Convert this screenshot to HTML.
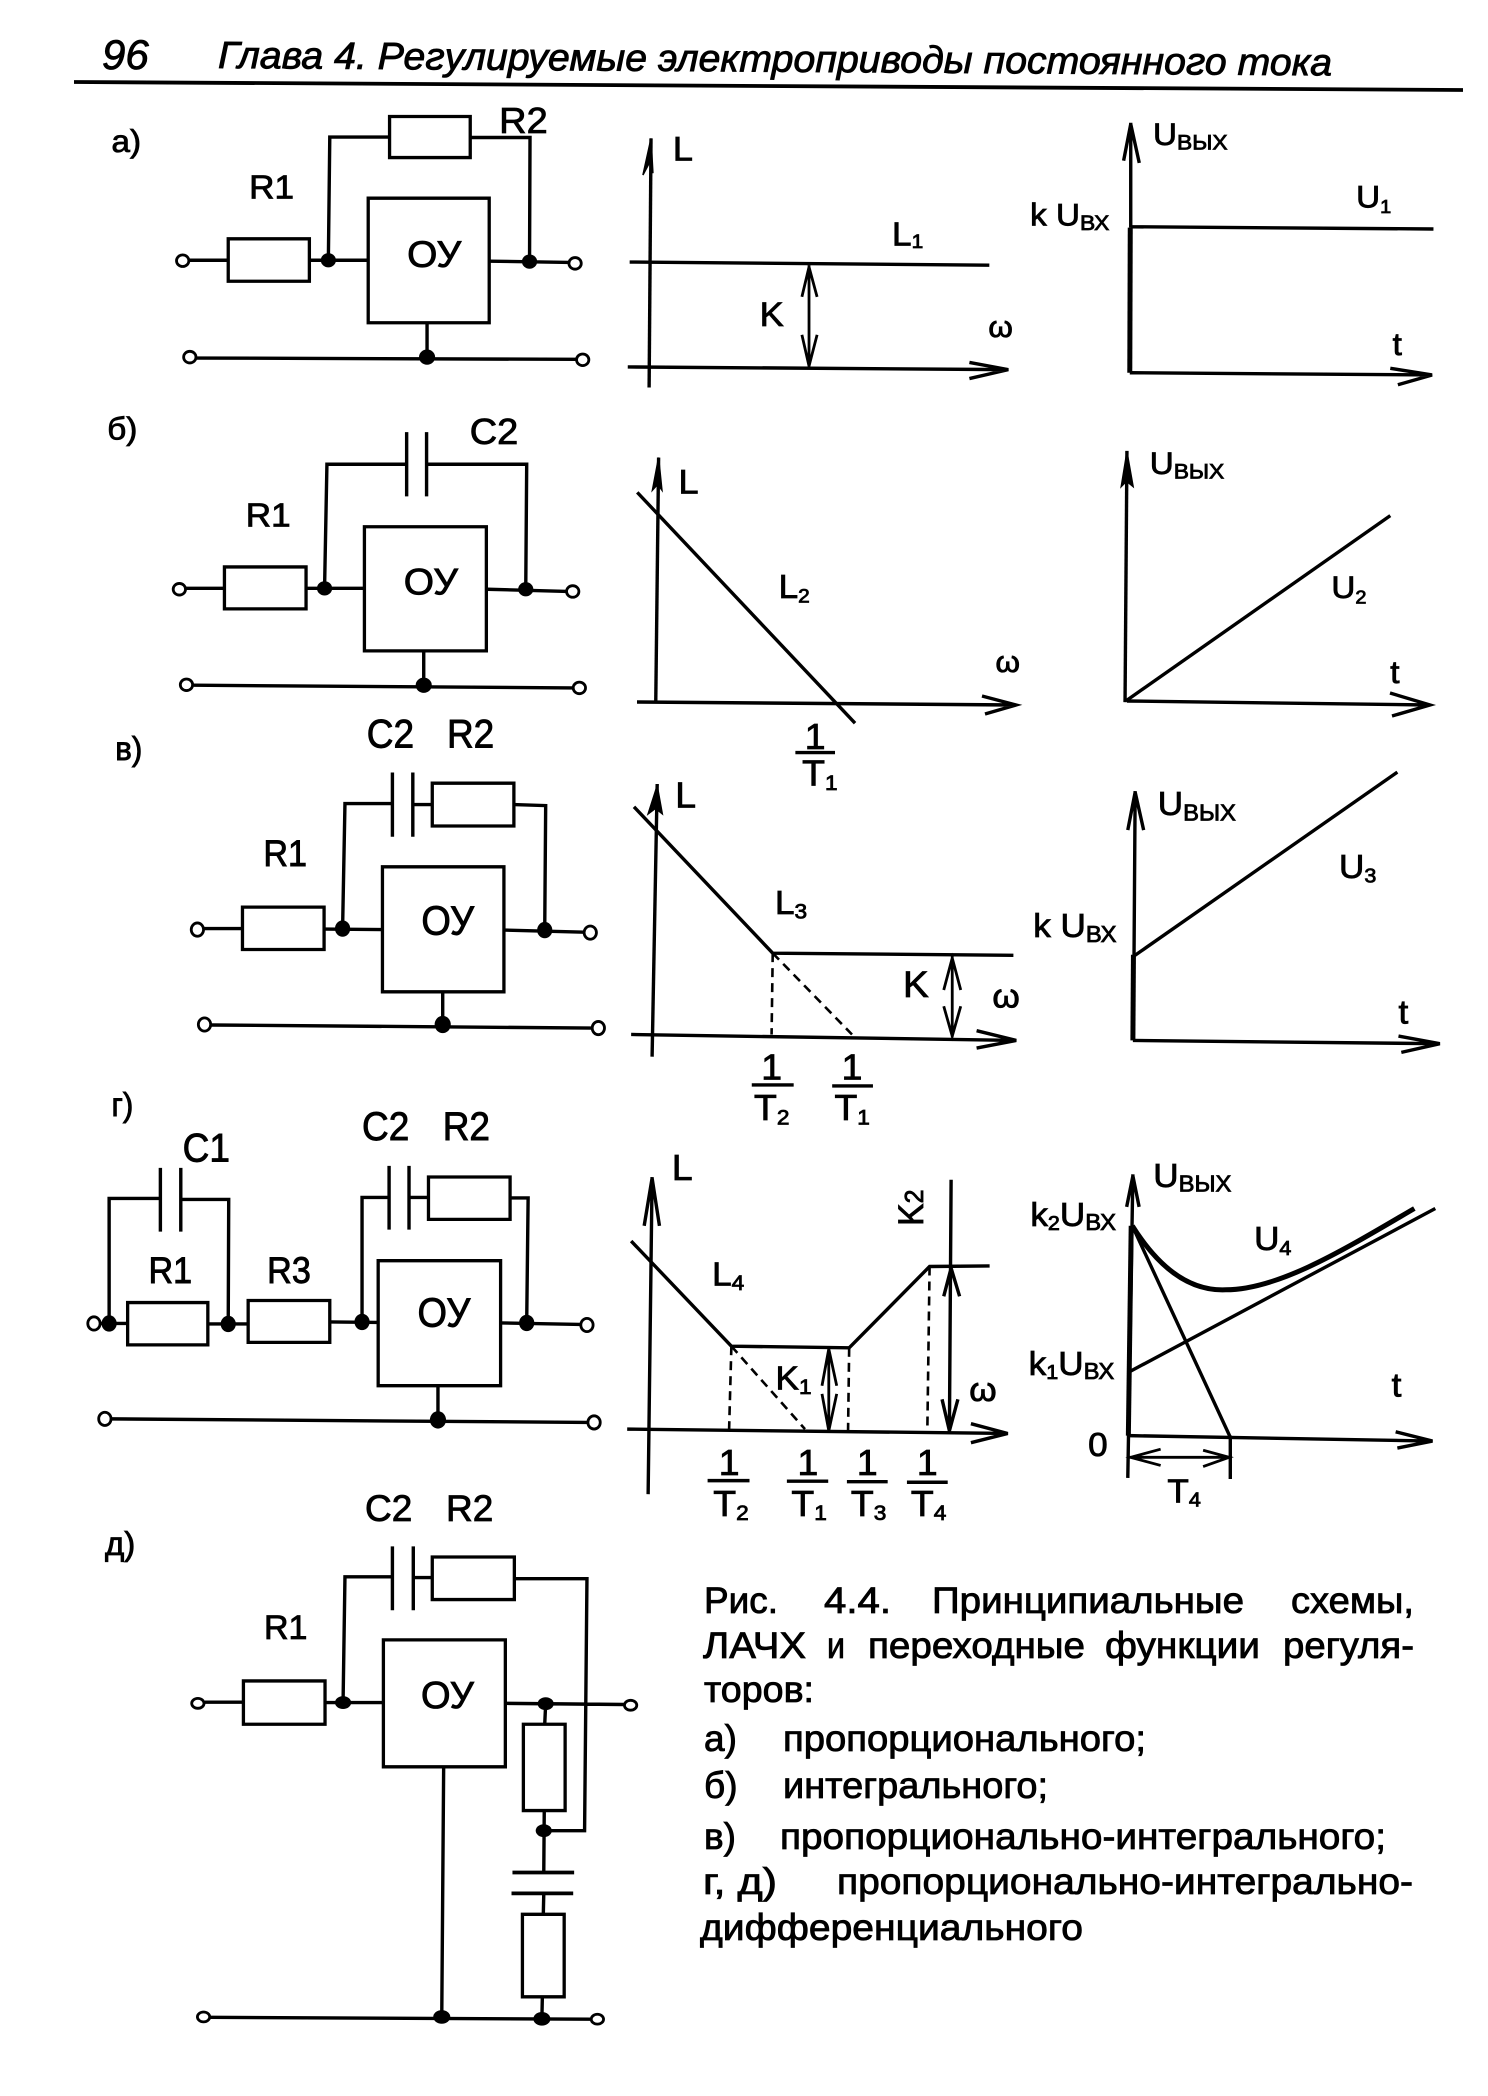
<!DOCTYPE html>
<html lang="ru"><head><meta charset="utf-8"><title>Рис. 4.4</title>
<style>
html,body{margin:0;padding:0;background:#fff}
svg{display:block;position:absolute;left:0;top:0}
svg *{vector-effect:non-scaling-stroke}
path{fill:none;stroke:#000;stroke-width:3.4}
path.t{stroke-width:2.8}
path.b{stroke-width:5}
path.d{stroke-dasharray:9 6;stroke-width:2.6}
path.h{fill:#000;stroke:#000;stroke-width:1.5}
rect{fill:none;stroke:#000;stroke-width:3.3}
circle.o{fill:#fff;stroke:#000;stroke-width:2.8}
circle.j{fill:#000;stroke:none}
text{font-family:"Liberation Sans",sans-serif;fill:#000;stroke:#000;stroke-width:.85}
</style></head><body>
<svg width="1488" height="2096" viewBox="0 0 1488 2096" xmlns="http://www.w3.org/2000/svg">

<!-- header -->
<path d="M74 82 L1463 90" style="stroke-width:3.8"/>
<text x="102" y="69" font-size="42" font-style="italic">96</text>
<text x="218" y="68" font-size="38" font-style="italic" textLength="1114" lengthAdjust="spacingAndGlyphs" transform="rotate(.38 218 68)">Глава 4. Регулируемые электроприводы постоянного тока</text>

<!-- ROW a / b -->
<g transform="scale(.4745,.4464)">
  <!-- circuit a -->
  <rect x="821" y="261" width="170" height="92"/>
  <rect x="481" y="535" width="171" height="95"/>
  <rect x="776" y="444" width="255" height="279"/>
  <path d="M692 583 L695 307 L821 307 M991 308 L1117 308 L1116 585 M398 583 L481 583 M652 583 L777 583 M1032 585 L1200 588 M900 724 L900 800 M413 802 L1214 805"/>
  <circle class="o" cx="385" cy="584" r="13"/><circle class="o" cx="1212" cy="590" r="13"/><circle class="o" cx="400" cy="800" r="13"/><circle class="o" cx="1228" cy="806" r="13"/>
  <circle class="j" cx="692" cy="583" r="16"/><circle class="j" cx="1116" cy="586" r="16"/><circle class="j" cx="900" cy="800" r="17"/>
  <text x="235" y="340" font-size="70">а)</text>
  <text x="525" y="445" font-size="74">R1</text>
  <text x="1052" y="298" font-size="80">R2</text>
  <text x="858" y="598" font-size="82">ОУ</text>

  <!-- graph a -->
  <path d="M1372 310 L1368 868"/>
  <path class="h" d="M1355 392 L1372 310 L1376 388 L1371 360 Z"/>
  <path d="M1327 587 L2085 594"/>
  <path d="M1323 822 L2125 828 M2043 812 L2125 828 L2043 848"/>
  <path class="t" d="M1705 594 L1705 822 M1690 665 L1705 598 L1722 665 M1690 750 L1705 820 L1722 750"/>
  <text x="1418" y="360" font-size="76">L</text>
  <text x="1601" y="730" font-size="76">K</text>
  <text x="2083" y="755" font-size="66" font-family="Liberation Serif">ω</text>
  <text x="1880" y="550" font-size="74">L<tspan font-size="44" dy="6">1</tspan></text>

  <!-- U graph a -->
  <path d="M2383 275 L2383 510 M2368 360 L2383 278 L2401 365"/>
  <path class="b" d="M2382 510 L2381 835"/>
  <path d="M2381 835 L3018 840 M2930 825 L3018 840 L2946 862"/>
  <path d="M2383 508 L3021 513"/>
  <text x="2430" y="325" font-size="70">U<tspan font-size="48" dy="10">ВЫХ</tspan></text>
  <text x="2171" y="505" font-size="70">k U<tspan font-size="48" dy="10">ВХ</tspan></text>
  <text x="2858" y="465" font-size="70">U<tspan font-size="42" dy="12">1</tspan></text>
  <text x="2935" y="795" font-size="70">t</text>

  <!-- circuit b -->
  <rect x="473" y="1270" width="172" height="94"/>
  <rect x="768" y="1180" width="257" height="278"/>
  <path d="M684 1318 L689 1040 L857 1040 M857 968 L857 1112 M899 968 L899 1112 M899 1040 L1110 1040 L1108 1320 M392 1318 L473 1318 M645 1318 L769 1318 M1027 1320 L1195 1325 M893 1458 L893 1535 M408 1535 L1208 1541"/>
  <circle class="o" cx="378" cy="1320" r="13"/><circle class="o" cx="1207" cy="1325" r="13"/><circle class="o" cx="393" cy="1534" r="13"/><circle class="o" cx="1221" cy="1541" r="13"/>
  <circle class="j" cx="684" cy="1318" r="16"/><circle class="j" cx="1108" cy="1320" r="16"/><circle class="j" cx="893" cy="1535" r="17"/>
  <text x="226" y="985" font-size="70">б)</text>
  <text x="518" y="1180" font-size="74">R1</text>
  <text x="990" y="995" font-size="80">C2</text>
  <text x="851" y="1332" font-size="82">ОУ</text>

  <!-- graph b -->
  <path d="M1388 1025 L1382 1573"/>
  <path class="h" d="M1375 1098 L1388 1025 L1395 1098 L1386 1085 Z"/>
  <path d="M1343 1103 L1802 1620"/>
  <text x="1430" y="1105" font-size="76">L</text>
  <text x="1641" y="1340" font-size="74">L<tspan font-size="44" dy="10">2</tspan></text>
  <text x="2098" y="1505" font-size="66" font-family="Liberation Serif">ω</text>

  <!-- U graph b -->
  <path d="M2375 1010 L2371 1573"/>
  <path class="h" d="M2363 1090 L2375 1012 L2388 1090 L2374 1078 Z"/>
  <path d="M2373 1570 L2930 1155"/>
  <text x="2423" y="1062" font-size="70">U<tspan font-size="48" dy="10">ВЫХ</tspan></text>
  <text x="2806" y="1340" font-size="70">U<tspan font-size="42" dy="12">2</tspan></text>
  <text x="2930" y="1530" font-size="70">t</text>
</g>

<!-- b axis bottom parts -->
<path d="M637 702 L1016 705 M982 696 L1016 705 L985 714"/>
<path d="M1127 701 L1430 705 M1390 693 L1430 705 L1392 716"/>

<!-- CIRCUITS c, g -->
<g transform="translate(0,700) scale(.4745,.5102)">
  <rect x="911" y="163" width="172" height="84"/>
  <rect x="511" y="406" width="172" height="83"/>
  <rect x="806" y="327" width="256" height="245"/>
  <path d="M722 448 L727 203 L827 203 M827 142 L827 268 M870 142 L870 268 M870 205 L911 205 M1083 205 L1150 207 L1148 450 M430 448 L511 448 M683 449 L807 450 M1062 451 L1232 455 M933 572 L933 636 M445 637 L1248 643"/>
  <circle class="o" cx="416" cy="450" r="13"/><circle class="o" cx="1244" cy="456" r="13"/><circle class="o" cx="431" cy="636" r="13"/><circle class="o" cx="1261" cy="643" r="13"/>
  <circle class="j" cx="722" cy="448" r="16"/><circle class="j" cx="1148" cy="451" r="16"/><circle class="j" cx="933" cy="636" r="17"/>
  <text x="243" y="118" font-size="66">в)</text>
  <text x="555" y="325" font-size="72">R1</text>
  <text x="773" y="93" font-size="78">C2</text>
  <text x="942" y="93" font-size="78">R2</text>
  <text x="888" y="460" font-size="80">ОУ</text>

  <rect x="269" y="1181" width="169" height="83"/>
  <rect x="523" y="1177" width="172" height="82"/>
  <rect x="903" y="935" width="172" height="83"/>
  <rect x="797" y="1099" width="258" height="245"/>
  <path d="M230 1222 L230 977 L338 977 M338 917 L338 1042 M381 917 L381 1042 M381 979 L482 979 L481 1223 M212 1222 L269 1222 M438 1223 L523 1223 M695 1219 L796 1220 M763 1219 L763 975 L820 975 M820 913 L820 1038 M862 913 L862 1038 M862 975 L903 975 M1075 976 L1113 976 L1110 1221 M1056 1221 L1222 1224 M923 1344 L923 1411 M233 1409 L1238 1416"/>
  <circle class="o" cx="198" cy="1222" r="13"/><circle class="o" cx="1237" cy="1225" r="13"/><circle class="o" cx="221" cy="1409" r="13"/><circle class="o" cx="1252" cy="1416" r="13"/>
  <circle class="j" cx="230" cy="1222" r="16"/><circle class="j" cx="481" cy="1223" r="16"/><circle class="j" cx="763" cy="1219" r="16"/><circle class="j" cx="1110" cy="1221" r="16"/><circle class="j" cx="923" cy="1411" r="17"/>
  <text x="235" y="815" font-size="66">г)</text>
  <text x="385" y="905" font-size="78">C1</text>
  <text x="763" y="862" font-size="78">C2</text>
  <text x="933" y="862" font-size="78">R2</text>
  <text x="313" y="1143" font-size="72">R1</text>
  <text x="563" y="1143" font-size="72">R3</text>
  <text x="880" y="1228" font-size="80">ОУ</text>
</g>

<!-- GRAPHS c, g -->
<g transform="translate(600,700) scale(.5663,.5421)">
  <!-- 1/T1 of b -->
  <text x="380" y="90" font-size="66" text-anchor="middle">1</text>
  <path d="M345 97 L415 97"/>
  <text x="357" y="158" font-size="66">T<tspan font-size="40" dy="8">1</tspan></text>

  <!-- graph c -->
  <path d="M101 155 L92 658"/>
  <path class="h" d="M85 210 L101 158 L110 210 L98 200 Z"/>
  <path d="M55 617 L735 628 M665 610 L735 628 L665 642"/>
  <path d="M60 197 L305 467 L730 471"/>
  <path class="d" d="M305 467 L303 617 M305 467 L445 617"/>
  <path class="t" d="M622 472 L622 622 M607 535 L622 476 L637 535 M607 565 L622 620 L637 565"/>
  <text x="133" y="198" font-size="66">L</text>
  <text x="309" y="395" font-size="62">L<tspan font-size="40" dy="8">3</tspan></text>
  <text x="535" y="548" font-size="68">K</text>
  <text x="693" y="567" font-size="62" font-family="Liberation Serif">ω</text>
  <text x="303" y="700" font-size="66" text-anchor="middle">1</text><path d="M268 710 L342 710"/>
  <text x="272" y="775" font-size="66">T<tspan font-size="40" dy="8">2</tspan></text>
  <text x="445" y="700" font-size="66" text-anchor="middle">1</text><path d="M410 712 L482 712"/>
  <text x="414" y="775" font-size="66">T<tspan font-size="40" dy="8">1</tspan></text>

  <!-- U3 -->
  <path d="M945 168 L943 473 M932 240 L945 170 L960 240"/>
  <path class="b" d="M942 470 L941 628"/>
  <path d="M941 628 L1483 634 M1410 620 L1483 634 L1415 650"/>
  <path d="M942 473 L1408 133"/>
  <text x="985" y="212" font-size="62">U<tspan font-size="42" dy="10">ВЫХ</tspan></text>
  <text x="1305" y="328" font-size="62">U<tspan font-size="38" dy="9">3</tspan></text>
  <text x="765" y="437" font-size="62">k U<tspan font-size="42" dy="9">ВХ</tspan></text>
  <text x="1410" y="597" font-size="62">t</text>

  <!-- graph g -->
  <path d="M92 880 L85 1465 M78 970 L92 882 L105 970"/>
  <path d="M48 1345 L720 1353 M655 1335 L720 1353 L655 1370"/>
  <path d="M55 998 L232 1192 L440 1195 L582 1045 L688 1044"/>
  <path class="d" d="M232 1192 L228 1345 M232 1192 L362 1345 M440 1195 L438 1350 M582 1045 L578 1350"/>
  <path class="t" d="M404 1195 L404 1350 M392 1265 L404 1197 L418 1265 M392 1280 L404 1348 L418 1280"/>
  <path d="M620 885 L617 1350 M607 1100 L620 1048 L635 1100 M604 1290 L617 1348 L632 1290"/>
  <text x="127" y="885" font-size="66">L</text>
  <text x="198" y="1080" font-size="62">L<tspan font-size="40" dy="8">4</tspan></text>
  <text x="310" y="1272" font-size="62">K<tspan font-size="40" dy="8">1</tspan></text>
  <text transform="translate(570,970) rotate(-90)" font-size="62">K<tspan font-size="46">2</tspan></text>
  <text x="652" y="1293" font-size="62" font-family="Liberation Serif">ω</text>
  <text x="228" y="1430" font-size="66" text-anchor="middle">1</text><path d="M190 1440 L264 1440"/>
  <text x="200" y="1505" font-size="66">T<tspan font-size="40" dy="8">2</tspan></text>
  <text x="367" y="1430" font-size="66" text-anchor="middle">1</text><path d="M330 1441 L403 1441"/>
  <text x="338" y="1505" font-size="66">T<tspan font-size="40" dy="8">1</tspan></text>
  <text x="472" y="1430" font-size="66" text-anchor="middle">1</text><path d="M436 1442 L508 1442"/>
  <text x="443" y="1505" font-size="66">T<tspan font-size="40" dy="8">3</tspan></text>
  <text x="578" y="1430" font-size="66" text-anchor="middle">1</text><path d="M542 1443 L614 1443"/>
  <text x="549" y="1505" font-size="66">T<tspan font-size="40" dy="8">4</tspan></text>

  <!-- U4 -->
  <path d="M941 875 L932 1435 M930 935 L941 878 L952 935"/>
  <path class="b" d="M938 970 L933 1357"/>
  <path d="M935 1357 L1470 1367 M1405 1350 L1470 1367 L1408 1380"/>
  <path d="M937 1238 L1475 938"/>
  <path class="b" d="M940 970 C1000 1070 1060 1090 1105 1088 C1200 1088 1320 1010 1438 938"/>
  <path d="M940 970 L1113 1360 M1113 1357 L1113 1437"/>
  <path class="t" d="M935 1397 L1113 1397 M990 1382 L937 1397 L990 1412 M1065 1384 L1111 1397 L1065 1414"/>
  <text x="977" y="898" font-size="62">U<tspan font-size="42" dy="9">ВЫХ</tspan></text>
  <text x="1155" y="1015" font-size="62">U<tspan font-size="38" dy="9">4</tspan></text>
  <text x="760" y="970" font-size="62">k<tspan font-size="38" dy="8">2</tspan><tspan dy="-8">U</tspan><tspan font-size="42" dy="8">ВХ</tspan></text>
  <text x="757" y="1245" font-size="62">k<tspan font-size="38" dy="8">1</tspan><tspan dy="-8">U</tspan><tspan font-size="42" dy="8">ВХ</tspan></text>
  <text x="862" y="1395" font-size="62">0</text>
  <text x="1398" y="1285" font-size="62">t</text>
  <text x="1002" y="1480" font-size="62">T<tspan font-size="38" dy="8">4</tspan></text>
</g>

<!-- CIRCUIT d -->
<g transform="translate(0,1500) scale(.4745,.3801)">
  <rect x="911" y="150" width="173" height="112"/>
  <rect x="513" y="476" width="172" height="114"/>
  <rect x="808" y="368" width="257" height="334"/>
  <rect x="1103" y="590" width="88" height="227"/>
  <rect x="1101" y="1090" width="88" height="217"/>
  <path d="M723 533 L727 202 L827 202 M827 122 L827 290 M871 122 L871 290 M871 204 L911 204 M1084 207 L1237 207 L1232 870 L1146 870 M432 532 L513 532 M685 533 L809 533 M1067 535 L1315 538 M1150 536 L1148 590 M1147 817 L1146 980 M1146 1035 L1145 1090 M1143 1307 L1142 1365 M935 702 L931 1360 M442 1361 L1245 1366"/>
  <path style="stroke-width:3.8" d="M1080 980 L1210 980 M1078 1035 L1208 1035"/>
  <circle class="o" cx="417" cy="535" r="13"/><circle class="o" cx="1329" cy="540" r="13"/><circle class="o" cx="429" cy="1360" r="13"/><circle class="o" cx="1259" cy="1366" r="13"/>
  <circle class="j" cx="723" cy="533" r="17"/><circle class="j" cx="1150" cy="536" r="17"/><circle class="j" cx="1146" cy="870" r="17"/><circle class="j" cx="931" cy="1360" r="18"/><circle class="j" cx="1142" cy="1365" r="18"/>
</g>
<text x="105" y="1555" font-size="33">д)</text>
<text x="365" y="1521" font-size="37">C2</text>
<text x="446" y="1521" font-size="37">R2</text>
<text x="264" y="1639" font-size="34">R1</text>
<text x="421" y="1708" font-size="38">ОУ</text>

<!-- caption -->
<g>
<text x="704" y="1613" font-size="37" textLength="74" lengthAdjust="spacingAndGlyphs">Рис.</text>
<text x="824" y="1613" font-size="37" textLength="67" lengthAdjust="spacingAndGlyphs">4.4.</text>
<text x="932" y="1613" font-size="37" textLength="312" lengthAdjust="spacingAndGlyphs">Принципиальные</text>
<text x="1291" y="1613" font-size="37" textLength="123" lengthAdjust="spacingAndGlyphs">схемы,</text>

<text x="703" y="1658" font-size="37" textLength="103" lengthAdjust="spacingAndGlyphs">ЛАЧХ</text>
<text x="827" y="1658" font-size="37" textLength="18" lengthAdjust="spacingAndGlyphs">и</text>
<text x="868" y="1658" font-size="37" textLength="217" lengthAdjust="spacingAndGlyphs">переходные</text>
<text x="1105" y="1658" font-size="37" textLength="155" lengthAdjust="spacingAndGlyphs">функции</text>
<text x="1283" y="1658" font-size="37" textLength="131" lengthAdjust="spacingAndGlyphs">регуля-</text>

<text x="704" y="1702" font-size="37" textLength="110" lengthAdjust="spacingAndGlyphs">торов:</text>

<text x="704" y="1751" font-size="37">а)</text>
<text x="783" y="1751" font-size="37" textLength="363" lengthAdjust="spacingAndGlyphs">пропорционального;</text>
<text x="704" y="1798" font-size="37">б)</text>
<text x="783" y="1798" font-size="37" textLength="265" lengthAdjust="spacingAndGlyphs">интегрального;</text>
<text x="704" y="1849" font-size="37">в)</text>
<text x="780" y="1849" font-size="37" textLength="606" lengthAdjust="spacingAndGlyphs">пропорционально-интегрального;</text>
<text x="703" y="1894" font-size="37" textLength="74" lengthAdjust="spacingAndGlyphs">г, д)</text>
<text x="837" y="1894" font-size="37" textLength="576" lengthAdjust="spacingAndGlyphs">пропорционально-интегрально-</text>
<text x="700" y="1940" font-size="37" textLength="383" lengthAdjust="spacingAndGlyphs">дифференциального</text>
</g>
</svg>
</body></html>
